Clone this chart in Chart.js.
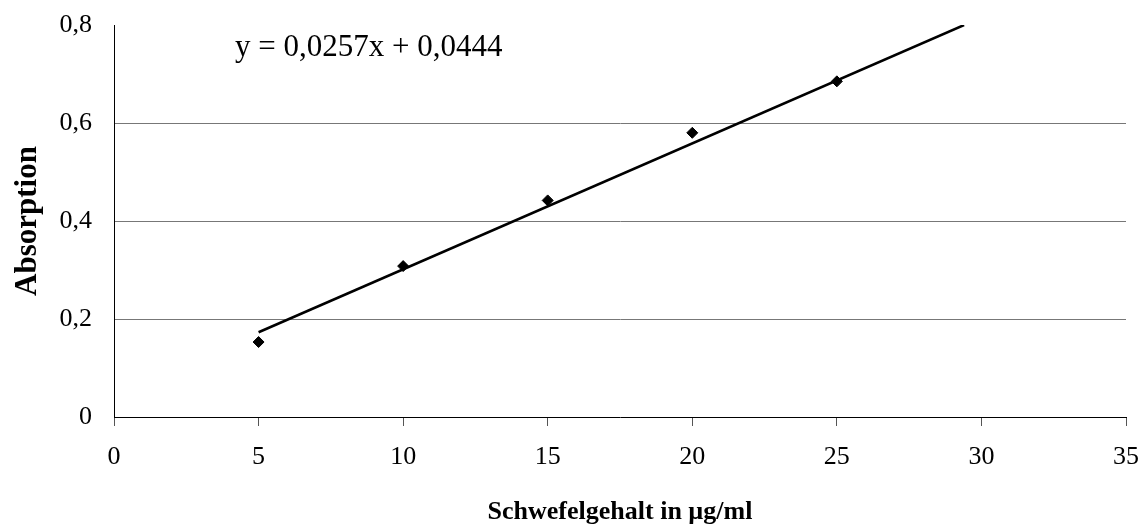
<!DOCTYPE html>
<html>
<head>
<meta charset="utf-8">
<script src="https://cdn.jsdelivr.net/npm/chart.js@4"></script>
<style>
  html, body { margin: 0; padding: 0; background: #fff; }
  #wrap { width: 1144px; height: 532px; }
</style>
</head>
<body>
<div id="wrap"><canvas id="myChart" width="1144" height="532"></canvas></div>
<script>
// measured points
var concentration = [5, 10, 15, 20, 25];
var absorption = [0.153, 0.308, 0.442, 0.580, 0.685];
// linear trendline y = 0,0257x + 0,0444 (drawn from x=5 until it leaves the plot at 0,8)
var trendX = [5, 29.4];
var trendY = [0.173, 0.8];
var equationText = 'y = 0,0257x + 0,0444';
var xTicks = [0, 5, 10, 15, 20, 25, 30, 35];
var yTicks = [0, 0.2, 0.4, 0.6, 0.8];

var serif = "'Liberation Serif', 'Times New Roman', serif";

var equationLabel = {
    id: 'equationLabel',
    afterDraw: function(chart) {
        var c = chart.ctx;
        c.save();
        c.font = '31px ' + serif;
        c.fillStyle = '#000';
        c.textBaseline = 'alphabetic';
        c.fillText(equationText, 235, 56);
        c.restore();
    }
};

var ctx = document.getElementById("myChart").getContext('2d');
var myChart = new Chart(ctx, {
    type: 'scatter',
    data: {
        datasets: [{
            label: 'Messwerte',
            data: concentration.map(function(x, i) { return {x: x, y: absorption[i]}; }),
            pointStyle: 'rectRot',
            pointRadius: 5.5,
            backgroundColor: '#000',
            borderColor: '#000',
            showLine: false
        }, {
            label: 'Trend',
            data: trendX.map(function(x, i) { return {x: x, y: trendY[i]}; }),
            showLine: true,
            pointRadius: 0,
            borderColor: '#000',
            borderWidth: 2.5,
            fill: false
        }]
    },
    options: {
        responsive: false,
        animation: false,
        layout: { padding: { top: 25, right: 18, left: 0, bottom: 0 } },
        plugins: {
            legend: { display: false },
            tooltip: { enabled: false }
        },
        scales: {
            x: {
                type: 'linear',
                min: 0,
                max: 35,
                afterBuildTicks: function(scale) {
                    scale.ticks = xTicks.map(function(v) { return {value: v}; });
                },
                afterFit: function(scale) {
                    scale.height = 115;
                    scale.paddingLeft = 0;
                    scale.paddingRight = 0;
                },
                ticks: {
                    color: '#000',
                    padding: 16,
                    font: { family: serif, size: 26 }
                },
                grid: {
                    drawOnChartArea: false,
                    drawTicks: true,
                    tickLength: 9,
                    color: '#555'
                },
                border: { display: true, color: '#000', width: 1 },
                title: {
                    display: true,
                    text: 'Schwefelgehalt in µg/ml',
                    color: '#000',
                    padding: { top: 0, bottom: 4 },
                    font: { family: serif, size: 26, weight: 'bold' }
                }
            },
            y: {
                min: 0,
                max: 0.8,
                afterBuildTicks: function(scale) {
                    scale.ticks = yTicks.map(function(v) { return {value: v}; });
                },
                afterFit: function(scale) {
                    scale.width = 114;
                    scale.paddingTop = 0;
                    scale.paddingBottom = 0;
                },
                ticks: {
                    color: '#000',
                    padding: 22,
                    font: { family: serif, size: 26 },
                    callback: function(v) {
                        return v === 0 ? '0' : v.toFixed(1).replace('.', ',');
                    }
                },
                grid: {
                    drawTicks: false,
                    color: function(c) {
                        return (c.tick && (c.tick.value === 0.8 || c.tick.value === 0)) ? 'rgba(0,0,0,0)' : '#777';
                    },
                    lineWidth: 1
                },
                border: { display: true, color: '#000', width: 1 },
                title: {
                    display: true,
                    text: 'Absorption',
                    color: '#000',
                    padding: { top: 9, bottom: 0 },
                    font: { family: serif, size: 31, weight: 'bold' }
                }
            }
        }
    },
    plugins: [equationLabel]
});
</script>
</body>
</html>
